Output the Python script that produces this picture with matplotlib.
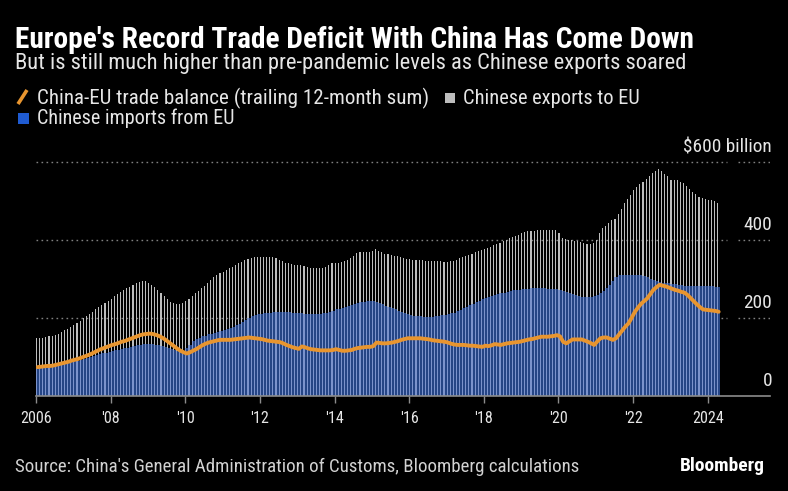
import matplotlib
matplotlib.use("Agg")
import matplotlib.pyplot as plt
import matplotlib.font_manager as fm
from matplotlib.lines import Line2D
from matplotlib.patches import Rectangle
import numpy as np

# ---------------- data (USD billion, trailing 12-month sums, monthly Jan 2006 - Apr 2024)
exports_2006_2024 = [
    148, 149, 150, 152, 153, 155, 156, 160, 165, 169, 173, 178,   # 2006
    182, 188, 193, 199, 205, 210, 216, 222, 227, 233, 239, 244,   # 2007
    250, 256, 261, 267, 271, 276, 280, 284, 289, 293, 295, 294,   # 2008
    290, 285, 279, 272, 264, 256, 249, 242, 238, 236, 236, 239,   # 2009
    243, 250, 257, 264, 270, 276, 283, 290, 298, 305, 310, 315,   # 2010
    319, 323, 327, 331, 336, 340, 344, 348, 351, 354, 356, 356,   # 2011
    356, 356, 356, 356, 356, 355, 350, 345, 342, 340, 338, 336,   # 2012
    336, 335, 333, 331, 329, 327, 327, 327, 329, 332, 336, 340,   # 2013
    342, 342, 343, 345, 349, 353, 360, 366, 368, 370, 370, 370,   # 2014
    373, 377, 371, 368, 365, 363, 362, 360, 359, 357, 355, 352,   # 2015
    351, 350, 349, 348, 348, 347, 347, 346, 346, 345, 345, 344,   # 2016
    344, 345, 347, 350, 353, 357, 360, 362, 365, 368, 371, 375,   # 2017
    377, 379, 383, 387, 390, 393, 397, 400, 404, 408, 411, 414,   # 2018
    417, 420, 422, 424, 424, 425, 426, 426, 426, 426, 426, 426,   # 2019
    418, 405, 402, 400, 399, 398, 397, 395, 393, 391, 390, 393,   # 2020
    401, 418, 431, 437, 444, 451, 455, 466, 480, 494, 505, 515,   # 2021
    528, 537, 543, 550, 557, 565, 571, 576, 581, 577, 570, 563,   # 2022
    555, 553, 554, 550, 545, 538, 530, 523, 517, 511, 507, 504,   # 2023
    503, 502, 500, 496,                                           # 2024
]
imports_2006_2024 = [
    71, 72, 73, 74, 75, 76, 78, 79, 81, 83, 85, 87,
    89, 91, 93, 95, 98, 101, 103, 105, 107, 109, 111, 113,
    115, 117, 118, 120, 122, 124, 126, 128, 130, 131, 133, 134,
    134, 133, 132, 130, 128, 126, 124, 121, 118, 116, 114, 116,
    124, 132, 140, 146, 150, 153, 155, 158, 160, 162, 164, 166,
    168, 171, 174, 178, 182, 185, 190, 195, 200, 204, 207, 209,
    210, 212, 213, 214, 215, 215, 215, 215, 215, 215, 214, 213,
    212, 212, 211, 211, 210, 210, 210, 211, 212, 214, 216, 218,
    222, 224, 226, 229, 231, 234, 236, 238, 240, 242, 244, 244,
    243, 241, 238, 235, 232, 229, 225, 222, 219, 216, 213, 211,
    208, 206, 205, 204, 203, 203, 203, 203, 204, 205, 207, 208,
    210, 212, 214, 217, 220, 225, 229, 233, 236, 240, 244, 248,
    251, 254, 256, 259, 261, 263, 265, 267, 269, 271, 272, 273,
    274, 275, 275, 276, 276, 276, 276, 276, 275, 275, 274, 274,
    272, 269, 267, 264, 261, 258, 256, 254, 253, 253, 254, 256,
    259, 264, 270, 276, 284, 296, 306, 309, 310, 310, 310, 310,
    310, 310, 309, 307, 304, 300, 297, 294, 292, 291, 290, 289,
    288, 286, 285, 284, 283, 283, 282, 282, 282, 282, 282, 282,
    281, 281, 280, 279,
]
balance_2006_2024 = [
    74, 75, 76, 77, 77, 78, 80, 82, 84, 86, 88, 91,
    93, 95, 98, 101, 104, 107, 111, 115, 119, 122, 125, 128,
    131, 133, 136, 139, 141, 144, 147, 150, 153, 156, 158, 159,
    160, 159, 157, 154, 150, 145, 139, 133, 127, 121, 116, 112,
    109, 112, 116, 120, 125, 130, 134, 137, 139, 141, 143, 144,
    144, 144, 144, 145, 146, 147, 148, 149, 150, 149, 148, 147,
    146, 144, 142, 141, 140, 139, 138, 135, 131, 128, 125, 123,
    121, 127, 125, 122, 120, 119, 118, 117, 117, 117, 117, 118,
    120, 118, 116, 116, 117, 118, 121, 123, 124, 125, 126, 126,
    128, 137, 136, 135, 135, 136, 137, 139, 141, 144, 146, 148,
    148, 148, 148, 148, 147, 146, 145, 143, 142, 141, 140, 139,
    137, 134, 132, 131, 131, 131, 130, 129, 129, 128, 127, 126,
    129, 128, 130, 133, 132, 131, 133, 135, 136, 137, 138, 139,
    141, 143, 145, 146, 148, 150, 152, 152, 152, 153, 154, 156,
    153, 139, 135, 140, 145, 145, 145, 145, 142, 139, 135, 131,
    140, 148, 150, 150, 147, 144, 148, 158, 168, 178, 186, 200,
    215, 226, 236, 243, 250, 261, 272, 279, 285, 283, 281, 278,
    275, 272, 270, 267, 265, 259, 251, 243, 235, 228, 222, 221,
    220, 219, 218, 216,
]
tick_years = [2006, 2008, 2010, 2012, 2014, 2016, 2018, 2020, 2022, 2024]
tick_labels = ["2006", "'08", "'10", "'12", "'14", "'16", "'18", "'20", "'22", "2024"]
y_ticks = [0, 200, 400, 600]
y_labels = ["0", "200", "400", "$600 billion"]
start_year = 2006

title = "Europe's Record Trade Deficit With China Has Come Down"
subtitle = "But is still much higher than pre-pandemic levels as Chinese exports soared"
legend_balance = "China-EU trade balance (trailing 12-month sum)"
legend_exports = "Chinese exports to EU"
legend_imports = "Chinese imports from EU"
source = "Source: China's General Administration of Customs, Bloomberg calculations"

# ---------------- fonts
names = {f.name for f in fm.fontManager.ttflist}
font = "DejaVu Sans"
for cand in ["Liberation Sans Narrow", "DejaVu Sans Condensed", "Roboto Condensed", "Roboto", "DejaVu Sans"]:
    if cand in names:
        font = cand
        break
plt.rcParams["font.family"] = [font, "DejaVu Sans"]

# ---------------- styling
BG = "#000000"
GREY = "#bdbdbd"
LIGHTBLUE = "#7b93cc"
DARKBLUE = "#254585"
ORANGE = "#e8952f"
TEXT = "#e6e6e6"
GRID = "#808080"
AXIS = "#8c8c8c"

W, H = 788, 491
fig = plt.figure(figsize=(W / 100, H / 100), dpi=100, facecolor=BG)

def fx(x):
    return x / W

def fy(y):
    return 1 - y / H

# axes geometry in pixels
x0_px, x1_px = 36, 770
y0_px, ytop_px = 396, 150
px_per_month = 3.11
px_per_unit = 78 / 200.0
ax = fig.add_axes([fx(x0_px), fy(y0_px), (x1_px - x0_px) / W, (y0_px - ytop_px) / H])
ax.set_facecolor(BG)
xmax = (x1_px - x0_px) / px_per_month
ymax = (y0_px - ytop_px) / px_per_unit
ax.set_xlim(0, xmax)
ax.set_ylim(0, ymax)

exports = np.array(exports_2006_2024, dtype=float)
imports = np.array(imports_2006_2024, dtype=float)
balance = np.array(balance_2006_2024, dtype=float)
idx = np.arange(len(exports))

# gridlines (dotted, split around the label column)
gap_a = (727 - x0_px) / px_per_month
gap_b = (738 - x0_px) / px_per_month
for v in y_ticks[1:]:
    ax.hlines(v, 0, gap_a, colors=GRID, linestyles=(0, (1.2, 2.4)), linewidth=1.0, zorder=1)
    ax.hlines(v, gap_b, xmax, colors=GRID, linestyles=(0, (1.2, 2.4)), linewidth=1.0, zorder=1)

gw = 0.36
ax.bar(idx, exports, width=gw, align="edge", color=GREY, linewidth=0, zorder=2)
ax.bar(idx, imports, width=gw, align="edge", color=LIGHTBLUE, linewidth=0, zorder=3)
ax.bar(idx + gw, imports, width=1 - gw, align="edge", color=DARKBLUE, linewidth=0, zorder=3)
ax.plot(idx + 0.5, balance, color=ORANGE, linewidth=2.8, solid_capstyle="round",
        solid_joinstyle="round", zorder=5)

ax.axhline(0, color=AXIS, linewidth=1.2, zorder=6, clip_on=False)
for s in ax.spines.values():
    s.set_visible(False)
ax.set_yticks([])
ax.set_xticks([(y - start_year) * 12 for y in tick_years])
ax.set_xticklabels(tick_labels)
ax.tick_params(axis="x", direction="out", length=5, width=1, color=AXIS, colors=TEXT, pad=6)

fig.canvas.draw()
r = fig.canvas.get_renderer()

def fit(t, width_px):
    for _ in range(2):
        w = t.get_window_extent(r).width
        t.set_fontsize(t.get_fontsize() * width_px / w)

# y labels
ylab_texts = []
ylab_base = {0: 386, 200: 308, 400: 230, 600: 152}
for v, lab in zip(y_ticks, y_labels):
    t = fig.text(fx(772), fy(ylab_base[v]), lab, ha="right", va="baseline", color=TEXT, fontsize=13)
    ylab_texts.append(t)
fit(ylab_texts[-1], 88)
for t in ylab_texts[:-1]:
    t.set_fontsize(ylab_texts[-1].get_fontsize())

# x tick label size
tl = ax.get_xticklabels()[0]
fit(tl, 32)
fsx = tl.get_fontsize()
for t in ax.get_xticklabels():
    t.set_fontsize(fsx)
    t.set_color(TEXT)

# headline texts
t_title = fig.text(fx(15), fy(48), title, ha="left", va="baseline", color="white",
                   fontsize=19, fontweight="bold")
fit(t_title, 678)
t_sub = fig.text(fx(15), fy(69), subtitle, ha="left", va="baseline", color=TEXT, fontsize=15)
fit(t_sub, 671)

# legend
t_l1 = fig.text(fx(37), fy(104), legend_balance, ha="left", va="baseline", color=TEXT, fontsize=14)
fit(t_l1, 393)
t_l2 = fig.text(fx(463), fy(104), legend_exports, ha="left", va="baseline", color=TEXT, fontsize=14)
fit(t_l2, 177)
t_l3 = fig.text(fx(37), fy(124), legend_imports, ha="left", va="baseline", color=TEXT, fontsize=14)
fit(t_l3, 197)
fig.add_artist(Line2D([fx(18), fx(27)], [fy(104), fy(90)], transform=fig.transFigure,
                      color=ORANGE, linewidth=2.6, solid_capstyle="butt"))
fig.add_artist(Rectangle((fx(445), fy(103)), 10 / W, 10 / H, transform=fig.transFigure,
                         facecolor="#bdbdbd", edgecolor="none"))
fig.add_artist(Rectangle((fx(18), fy(124)), 11 / W, 11 / H, transform=fig.transFigure,
                         facecolor="#1f5bd1", edgecolor="none"))

# footer
t_src = fig.text(fx(15), fy(472), source, ha="left", va="baseline", color="#d2d2d2", fontsize=13)
fit(t_src, 565)
t_bb = fig.text(fx(765), fy(471), "Bloomberg", ha="right", va="baseline", color="white",
                fontsize=13, fontweight="bold")
fit(t_bb, 85)

fig.savefig("out.png", dpi=100, facecolor=BG)
